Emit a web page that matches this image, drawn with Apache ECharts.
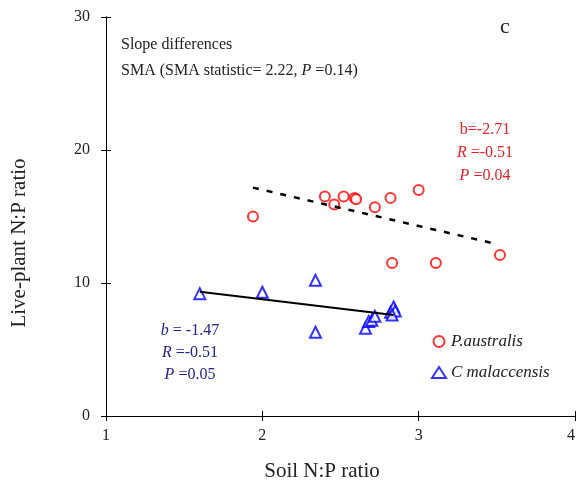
<!DOCTYPE html>
<html lang="en">
<head>
    <meta charset="UTF-8">
    <title>Soil vs live-plant N:P</title>
    <script src="https://cdn.jsdelivr.net/npm/echarts@6/dist/echarts.min.js"></script>
</head>
<body style="margin: 0">
<div id="container" style="width: 576px; height: 485px"></div>
<script>
    // Phragmites australis: [soil N:P, live-plant N:P]
    var australisPts = [
        [1.94, 15.0], [2.40, 16.5], [2.46, 15.9], [2.52, 16.5], [2.59, 16.4],
        [2.60, 16.3], [2.72, 15.7], [2.82, 16.4], [3.00, 17.0], [2.83, 11.5],
        [3.11, 11.5], [3.52, 12.1]
    ];
    // Cyperus malaccensis
    var malaccensisPts = [
        [1.60, 9.2], [2.00, 9.3], [2.34, 10.2], [2.34, 6.3], [2.66, 6.6],
        [2.68, 7.1], [2.70, 7.2], [2.72, 7.5], [2.82, 7.8], [2.84, 8.2],
        [2.85, 7.9], [2.83, 7.6]
    ];
    // SMA fit lines (end points)
    var australisFit = [[1.94, 17.17], [3.48, 12.98]];
    var malaccensisFit = [[1.60, 9.35], [2.84, 7.59]];
    var xTicks = [1, 2, 3, 4];
    var yTicks = [0, 10, 20, 30];

    var serif = '"Liberation Serif", "DejaVu Serif", serif';
    var gridL = 106, gridT = 17, gridR = 1, gridB = 69;
    var plotW = 576 - gridL - gridR, plotH = 485 - gridT - gridB;
    var dom = document.getElementById("container");
    var myChart = echarts.init(dom);

    // main axis: outer ticks + labels; mirror axis moved onto it gives the inner ticks
    function axisX(pos, offset, show) {
        return {
            type: 'value', min: xTicks[0], max: xTicks[xTicks.length - 1], interval: 1,
            position: pos, offset: offset,
            axisLine: {show: true, onZero: false, lineStyle: {color: '#000', width: 1}},
            axisTick: {show: true, length: 5, lineStyle: {color: '#000'}},
            axisLabel: {show: show, color: '#222', fontFamily: serif, fontSize: 16, margin: 12, alignMaxLabel: 'right'},
            splitLine: {show: false}
        };
    }
    function axisY(pos, offset, show) {
        return {
            type: 'value', min: yTicks[0], max: yTicks[yTicks.length - 1], interval: 10,
            position: pos, offset: offset,
            axisLine: {show: true, onZero: false, lineStyle: {color: '#000', width: 1}},
            axisTick: {show: true, length: 5, lineStyle: {color: '#000'}},
            axisLabel: {show: show, color: '#222', fontFamily: serif, fontSize: 16, margin: 16},
            splitLine: {show: false}
        };
    }

    var option = {
        animation: false,
        grid: {left: gridL, top: gridT, right: gridR, bottom: gridB, outerBoundsMode: 'none', containLabel: false},
        xAxis: [axisX('bottom', 0, true), axisX('top', -plotH, false)],
        yAxis: [axisY('left', 0, true), axisY('right', -plotW, false)],
        legend: {
            orient: 'vertical', left: 426, top: 328, itemGap: 14,
            itemWidth: 14, itemHeight: 11,
            textStyle: {fontFamily: serif, fontSize: 17, fontStyle: 'italic', color: '#222'},
            data: [
                {name: 'P.australis', icon: 'emptyCircle'},
                {name: 'C malaccensis', icon: 'emptyTriangle'}
            ]
        },
        series: [
            {
                name: 'P.australis', type: 'scatter', data: australisPts,
                symbol: 'emptyCircle', symbolSize: 10,
                itemStyle: {color: '#ff0000', borderColor: '#ff0000', borderWidth: 2.2}
            },
            {
                name: 'C malaccensis', type: 'scatter', data: malaccensisPts,
                symbol: 'emptyTriangle', symbolSize: 11,
                itemStyle: {color: '#0000ff', borderColor: '#0000ff', borderWidth: 2.4}
            },
            {
                type: 'line', data: australisFit, symbol: 'none', silent: true,
                lineStyle: {color: '#000', width: 2.5, type: [6, 8]}
            },
            {
                type: 'line', data: malaccensisFit, symbol: 'none', silent: true,
                lineStyle: {color: '#000', width: 2}
            }
        ],
        graphic: [
            {type: 'text', left: 121, top: 37, style: {text: 'Slope differences', font: '16px ' + serif, fill: '#222'}},
            {type: 'text', left: 121, top: 63, style: {
                text: 'SMA (SMA statistic= 2.22, {i|P} =0.14)',
                font: '16px ' + serif, fill: '#222',
                rich: {i: {fontStyle: 'italic', fontFamily: serif, fontSize: 16}}
            }},
            {type: 'text', left: 500, top: 16, style: {text: 'c', font: '22px ' + serif, fill: '#222'}},
            {type: 'text', x: 485, y: 130, style: {text: 'b=-2.71', font: '16px ' + serif, fill: '#ee1c25', align: 'center', verticalAlign: 'middle'}},
            {type: 'text', x: 485, y: 153, style: {text: '{i|R} =-0.51', font: '16px ' + serif, fill: '#ee1c25', align: 'center', verticalAlign: 'middle',
                rich: {i: {fontStyle: 'italic', fontFamily: serif, fontSize: 16, color: '#ee1c25'}}}},
            {type: 'text', x: 485, y: 176, style: {text: '{i|P} =0.04', font: '16px ' + serif, fill: '#ee1c25', align: 'center', verticalAlign: 'middle',
                rich: {i: {fontStyle: 'italic', fontFamily: serif, fontSize: 16, color: '#ee1c25'}}}},
            {type: 'text', x: 190, y: 331, style: {text: '{i|b} = -1.47', font: '16px ' + serif, fill: '#22228a', align: 'center', verticalAlign: 'middle',
                rich: {i: {fontStyle: 'italic', fontFamily: serif, fontSize: 16, color: '#22228a'}}}},
            {type: 'text', x: 190, y: 353, style: {text: '{i|R} =-0.51', font: '16px ' + serif, fill: '#22228a', align: 'center', verticalAlign: 'middle',
                rich: {i: {fontStyle: 'italic', fontFamily: serif, fontSize: 16, color: '#22228a'}}}},
            {type: 'text', x: 190, y: 375, style: {text: '{i|P} =0.05', font: '16px ' + serif, fill: '#22228a', align: 'center', verticalAlign: 'middle',
                rich: {i: {fontStyle: 'italic', fontFamily: serif, fontSize: 16, color: '#22228a'}}}},
            {type: 'text', x: 322, y: 471, style: {text: 'Soil N:P ratio', font: '21px ' + serif, fill: '#222', align: 'center', verticalAlign: 'middle'}},
            {type: 'text', x: 19, y: 243, rotation: Math.PI / 2, style: {text: 'Live-plant N:P ratio', font: '21px ' + serif, fill: '#222', align: 'center', verticalAlign: 'middle'}}
        ]
    };

    if (option && typeof option === "object") {
        myChart.setOption(option, true);
    }
</script>
</body>
</html>
